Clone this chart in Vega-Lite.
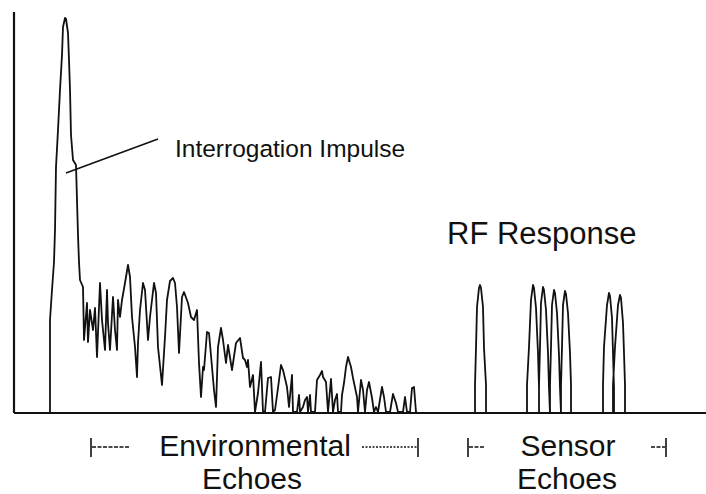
{
  "$schema": "https://vega.github.io/schema/vega-lite/v6.json",
  "width": 706,
  "height": 494,
  "padding": 0,
  "autosize": {"type": "none"},
  "background": "white",
  "config": {"view": {"stroke": null}},
  "datasets": {
    "trace": [
      {"t":50,"a":0},{"t":50,"a":93},{"t":52,"a":123},{"t":54,"a":151},{"t":55,"a":183},{"t":56,"a":246},{"t":58,"a":283},{"t":60,"a":323},{"t":62,"a":358},{"t":63,"a":386},{"t":65,"a":395},{"t":66,"a":394},{"t":68,"a":380},{"t":69,"a":353},{"t":70,"a":323},{"t":71,"a":278},{"t":73,"a":253},{"t":76,"a":248},{"t":77,"a":213},{"t":78,"a":178},{"t":79,"a":151},{"t":80,"a":133},
      {"t":83,"a":126},{"t":84,"a":73},{"t":87,"a":110},{"t":88,"a":71},{"t":90,"a":103},{"t":93,"a":83},{"t":95,"a":105},{"t":97,"a":56},{"t":100,"a":130},{"t":102,"a":93},{"t":105,"a":63},{"t":107,"a":123},{"t":108,"a":90},{"t":110,"a":63},{"t":113,"a":116},{"t":115,"a":83},{"t":117,"a":63},{"t":118,"a":113},{"t":120,"a":96},{"t":122,"a":113},{"t":125,"a":130},{"t":128,"a":148},{"t":130,"a":136},{"t":132,"a":96},{"t":135,"a":66},{"t":137,"a":36},{"t":138,"a":70},{"t":140,"a":103},{"t":143,"a":130},{"t":145,"a":123},{"t":148,"a":73},{"t":150,"a":96},{"t":154,"a":130},{"t":156,"a":120},{"t":158,"a":66},{"t":162,"a":28},{"t":165,"a":76},{"t":167,"a":113},{"t":170,"a":132},{"t":173,"a":135},{"t":175,"a":130},{"t":177,"a":106},{"t":179,"a":60},{"t":182,"a":116},{"t":184,"a":121},{"t":188,"a":110},{"t":191,"a":96},{"t":194,"a":93},{"t":197,"a":103},{"t":199,"a":50},{"t":201,"a":16},{"t":203,"a":46},{"t":204,"a":43},{"t":207,"a":81},{"t":209,"a":80},{"t":212,"a":46},{"t":214,"a":23},{"t":216,"a":6},{"t":218,"a":66},{"t":221,"a":85},{"t":223,"a":73},{"t":226,"a":50},{"t":228,"a":68},{"t":232,"a":43},{"t":236,"a":70},{"t":240,"a":75},{"t":243,"a":55},{"t":245,"a":53},{"t":247,"a":46},{"t":248,"a":53},{"t":250,"a":26},{"t":253,"a":38},{"t":255,"a":1},{"t":258,"a":20},{"t":261,"a":51},{"t":263,"a":1},{"t":265,"a":1},{"t":268,"a":35},{"t":271,"a":36},{"t":273,"a":1},{"t":275,"a":3},{"t":278,"a":25},{"t":281,"a":48},{"t":283,"a":43},{"t":287,"a":26},{"t":289,"a":6},{"t":292,"a":38},{"t":293,"a":1},{"t":297,"a":1},{"t":299,"a":18},{"t":300,"a":1},{"t":303,"a":6},{"t":305,"a":13},{"t":307,"a":16},{"t":308,"a":1},{"t":310,"a":18},{"t":311,"a":1},{"t":315,"a":1},{"t":317,"a":33},{"t":320,"a":38},{"t":322,"a":42},{"t":323,"a":36},{"t":326,"a":31},{"t":328,"a":1},{"t":331,"a":34},{"t":333,"a":1},{"t":335,"a":13},{"t":337,"a":19},{"t":338,"a":1},{"t":341,"a":1},{"t":342,"a":18},{"t":344,"a":30},{"t":346,"a":46},{"t":348,"a":56},{"t":351,"a":46},{"t":353,"a":35},{"t":357,"a":16},{"t":358,"a":1},{"t":361,"a":33},{"t":363,"a":23},{"t":365,"a":1},{"t":367,"a":23},{"t":369,"a":31},{"t":372,"a":15},{"t":374,"a":1},{"t":376,"a":6},{"t":378,"a":1},{"t":382,"a":26},{"t":384,"a":16},{"t":386,"a":1},{"t":390,"a":1},{"t":393,"a":19},{"t":396,"a":10},{"t":398,"a":1},{"t":403,"a":1},{"t":405,"a":16},{"t":407,"a":1},{"t":410,"a":1},{"t":412,"a":25},{"t":414,"a":26},{"t":416,"a":1},{"t":417,"a":0},
      {"t":475,"a":0},{"t":475,"a":28},{"t":476,"a":65},{"t":477,"a":106},{"t":479,"a":125},{"t":480,"a":128},{"t":481,"a":125},{"t":483,"a":106},{"t":484,"a":65},{"t":486,"a":28},{"t":486,"a":0},
      {"t":527,"a":0},{"t":527,"a":28},{"t":529,"a":66},{"t":531,"a":113},{"t":533,"a":128},{"t":534,"a":125},{"t":536,"a":105},{"t":538,"a":60},{"t":539,"a":25},{"t":539,"a":0},
      {"t":539,"a":28},{"t":540,"a":66},{"t":541,"a":110},{"t":543,"a":126},{"t":544,"a":123},{"t":546,"a":103},{"t":548,"a":60},{"t":549,"a":25},{"t":550,"a":0},
      {"t":550,"a":28},{"t":551,"a":66},{"t":552,"a":108},{"t":554,"a":123},{"t":555,"a":120},{"t":557,"a":100},{"t":559,"a":58},{"t":560,"a":25},{"t":561,"a":0},
      {"t":561,"a":28},{"t":562,"a":66},{"t":563,"a":108},{"t":565,"a":122},{"t":566,"a":119},{"t":568,"a":100},{"t":570,"a":60},{"t":571,"a":28},{"t":571,"a":0},
      {"t":603,"a":0},{"t":603,"a":28},{"t":604,"a":66},{"t":607,"a":108},{"t":609,"a":120},{"t":610,"a":117},{"t":612,"a":95},{"t":613,"a":60},{"t":614,"a":25},{"t":614,"a":0},
      {"t":613,"a":0},{"t":613,"a":28},{"t":615,"a":66},{"t":618,"a":108},{"t":620,"a":118},{"t":621,"a":115},{"t":623,"a":90},{"t":624,"a":60},{"t":625,"a":28},{"t":625,"a":0}
    ],
    "frame": [
      {"t":14,"a":401,"t2":14,"a2":0},
      {"t":14,"a":0,"t2":706,"a2":0}
    ],
    "leader": [
      {"t":66,"a":240,"t2":158,"a2":274}
    ],
    "ticks": [
      {"t":91,"a":-25,"t2":91,"a2":-44},
      {"t":418,"a":-25,"t2":418,"a2":-44},
      {"t":468,"a":-25,"t2":468,"a2":-44},
      {"t":666,"a":-25,"t2":666,"a2":-44}
    ],
    "dashes": [
      {"t":92,"a":-34,"t2":130,"a2":-34},
      {"t":469,"a":-34,"t2":484,"a2":-34},
      {"t":651,"a":-34,"t2":665,"a2":-34}
    ],
    "dots": [
      {"t":362,"a":-34,"t2":417,"a2":-34}
    ],
    "small": [
      {"t":175,"a":256,"label":"Interrogation Impulse"}
    ],
    "big": [
      {"t":447,"a":169,"label":"RF Response"}
    ],
    "bottom": [
      {"t":255,"a":-43,"label":"Environmental"},
      {"t":252,"a":-76,"label":"Echoes"},
      {"t":568,"a":-43,"label":"Sensor"},
      {"t":567,"a":-76,"label":"Echoes"}
    ]
  },
  "layer": [
    {
      "data": {"name": "frame"},
      "mark": {"type": "rule", "color": "#111", "strokeWidth": 2.2, "clip": false},
      "encoding": {
        "x": {"field": "t", "type": "quantitative", "scale": {"domain": [0, 706], "nice": false, "zero": false}, "axis": null},
        "y": {"field": "a", "type": "quantitative", "scale": {"domain": [-81, 413], "nice": false, "zero": false}, "axis": null},
        "x2": {"field": "t2"},
        "y2": {"field": "a2"}
      }
    },
    {
      "data": {"name": "trace"},
      "mark": {"type": "line", "color": "#111", "strokeWidth": 1.8, "strokeJoin": "round", "clip": false},
      "encoding": {
        "x": {"field": "t", "type": "quantitative"},
        "y": {"field": "a", "type": "quantitative"},
        "order": {"value": null}
      }
    },
    {
      "data": {"name": "leader"},
      "mark": {"type": "rule", "color": "#111", "strokeWidth": 1.6},
      "encoding": {
        "x": {"field": "t", "type": "quantitative"},
        "y": {"field": "a", "type": "quantitative"},
        "x2": {"field": "t2"},
        "y2": {"field": "a2"}
      }
    },
    {
      "data": {"name": "ticks"},
      "mark": {"type": "rule", "color": "#111", "strokeWidth": 1.6, "clip": false},
      "encoding": {
        "x": {"field": "t", "type": "quantitative"},
        "y": {"field": "a", "type": "quantitative"},
        "x2": {"field": "t2"},
        "y2": {"field": "a2"}
      }
    },
    {
      "data": {"name": "dashes"},
      "mark": {"type": "rule", "color": "#111", "strokeWidth": 1.3, "strokeDash": [4, 1.5], "clip": false},
      "encoding": {
        "x": {"field": "t", "type": "quantitative"},
        "y": {"field": "a", "type": "quantitative"},
        "x2": {"field": "t2"},
        "y2": {"field": "a2"}
      }
    },
    {
      "data": {"name": "dots"},
      "mark": {"type": "rule", "color": "#111", "strokeWidth": 1.6, "strokeDash": [2, 1.5], "clip": false},
      "encoding": {
        "x": {"field": "t", "type": "quantitative"},
        "y": {"field": "a", "type": "quantitative"},
        "x2": {"field": "t2"},
        "y2": {"field": "a2"}
      }
    },
    {
      "data": {"name": "small"},
      "mark": {"type": "text", "font": "Liberation Sans", "fontSize": 24.5, "align": "left", "baseline": "alphabetic", "color": "#111", "clip": false},
      "encoding": {
        "x": {"field": "t", "type": "quantitative"},
        "y": {"field": "a", "type": "quantitative"},
        "text": {"field": "label"}
      }
    },
    {
      "data": {"name": "big"},
      "mark": {"type": "text", "font": "Liberation Sans", "fontSize": 31, "align": "left", "baseline": "alphabetic", "color": "#111", "clip": false},
      "encoding": {
        "x": {"field": "t", "type": "quantitative"},
        "y": {"field": "a", "type": "quantitative"},
        "text": {"field": "label"}
      }
    },
    {
      "data": {"name": "bottom"},
      "mark": {"type": "text", "font": "Liberation Sans", "fontSize": 30, "align": "center", "baseline": "alphabetic", "color": "#111", "clip": false},
      "encoding": {
        "x": {"field": "t", "type": "quantitative"},
        "y": {"field": "a", "type": "quantitative"},
        "text": {"field": "label"}
      }
    }
  ]
}
